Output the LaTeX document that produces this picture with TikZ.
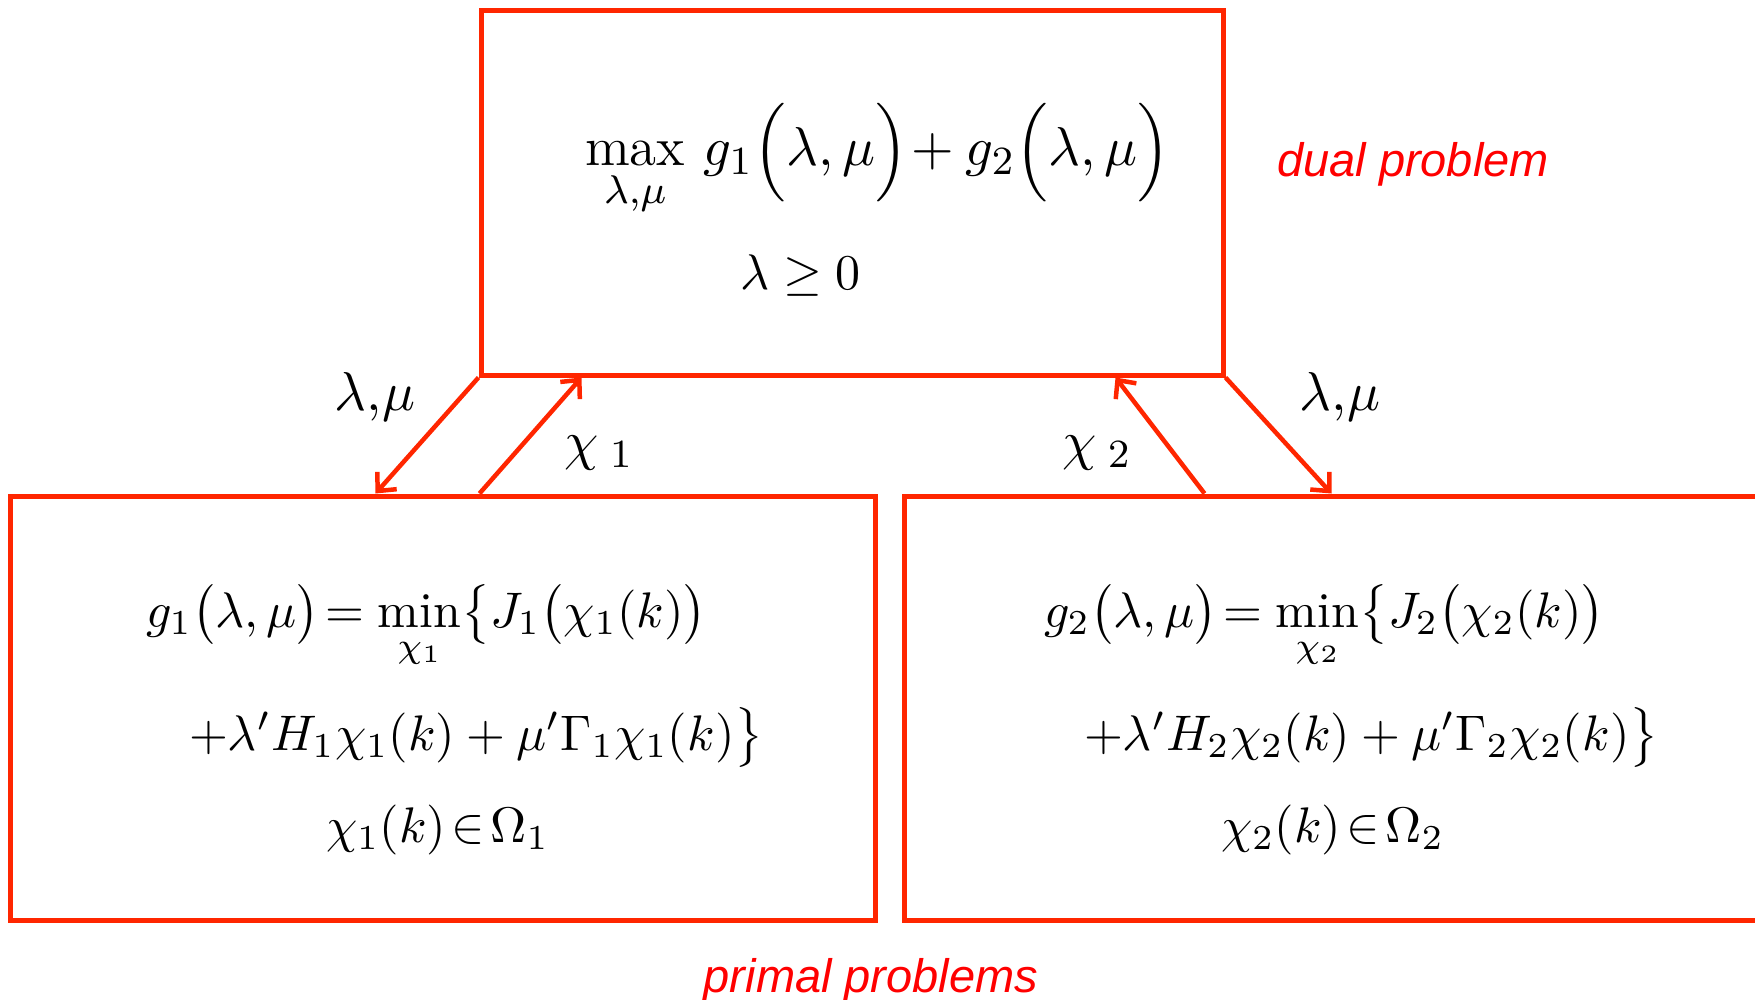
\documentclass[tikz,border=0pt]{standalone}
\usepackage{amsmath}
\usepackage{fontspec}
\newfontfamily\labelsans{Liberation Sans}
\usetikzlibrary{arrows.meta,calc}
\definecolor{boxred}{RGB}{255,38,0}
\definecolor{txtred}{RGB}{255,0,0}
\tikzset{
  boxframe/.style={draw=boxred,line width=1pt,rectangle,inner sep=0pt},
  mathtxt/.style={anchor=base west,inner sep=0pt,font=\fontsize{10}{12}\selectfont},
  bigmath/.style={mathtxt,font=\fontsize{11}{13}\selectfont},
  arrowlbl/.style={inner sep=0pt,font=\fontsize{11}{13}\selectfont},
  conn/.style={draw=boxred,line width=0.9pt,-{Straight Barb[length=2.8pt,width=5.2pt,line width=0.9pt]}},
  redlabel/.style={inner sep=0pt,text=txtred,font=\labelsans\itshape\fontsize{9.4}{10}\selectfont}
}
\begin{document}
\begin{tikzpicture}[x=0.2pt,y=-0.2pt]
\useasboundingbox (0,0) rectangle (1755,999);
% boxes
\node[boxframe,minimum width=148.4pt,minimum height=72.8pt] (top) at (852,193) {};
\node[boxframe,minimum width=172.8pt,minimum height=84.8pt] (left) at (443,708) {};
\node[boxframe,minimum width=174pt,minimum height=84.8pt] (right) at (1339,708) {};
% connector end points
\coordinate (l1) at ($(left.north west)+(367,0)$);
\coordinate (l2) at ($(left.north west)+(471,0)$);
\coordinate (t1) at ($(top.south west)+(103,0)$);
\coordinate (t2) at ($(top.south west)+(637,0)$);
\coordinate (r1) at ($(right.north west)+(303,0)$);
\coordinate (r2) at ($(right.north west)+(430,0)$);
% connectors
\draw[conn] (top.south west) -- (l1);
\draw[conn] (l2) -- (t1);
\draw[conn] (r1) -- (t2);
\draw[conn] (top.south east) -- (r2);
% connector labels
\node[arrowlbl] (lab1) at (375,397) {$\lambda{,}\mu$};
\node[arrowlbl] (lab2) at (599,453) {$\chi_{\;1}$};
\node[arrowlbl] (lab3) at (1097,453) {$\chi_{\;2}$};
\node[arrowlbl] (lab4) at (1340,397) {$\lambda{,}\mu$};
% top box text
\node[bigmath] (d1) at (584,166) {$\max\limits_{\lambda,\mu}\, g_1\Bigl(\lambda,\mu\Bigr)\!+g_2\Bigl(\lambda,\mu\Bigr)$};
\node[mathtxt] (d2) at (739,289) {$\lambda\geq 0$};
% left box text
\node[mathtxt] (p1) at (145,627) {$g_1\bigl(\lambda,\mu\bigr)\!=\min\limits_{\chi_1}\bigl\{J_1\bigl(\chi_1(k)\bigr)$};
\node[mathtxt] (p2) at (188,750) {$+\lambda' H_1\chi_1(k)+\mu'\Gamma_1\chi_1(k)\bigr\}$};
\node[mathtxt] (p3) at (325,842) {$\chi_1(k)\!\in\!\Omega_1$};
% right box text
\node[mathtxt] (q1) at (1043,627) {$g_2\bigl(\lambda,\mu\bigr)\!=\min\limits_{\chi_2}\bigl\{J_2\bigl(\chi_2(k)\bigr)$};
\node[mathtxt] (q2) at (1083,750) {$+\lambda' H_2\chi_2(k)+\mu'\Gamma_2\chi_2(k)\bigr\}$};
\node[mathtxt] (q3) at (1220,842) {$\chi_2(k)\!\in\!\Omega_2$};
% red labels
\node[redlabel] (dual) at (1413,164) {dual problem};
\node[redlabel] (primal) at (871,980) {primal problems};
\end{tikzpicture}
\end{document}
